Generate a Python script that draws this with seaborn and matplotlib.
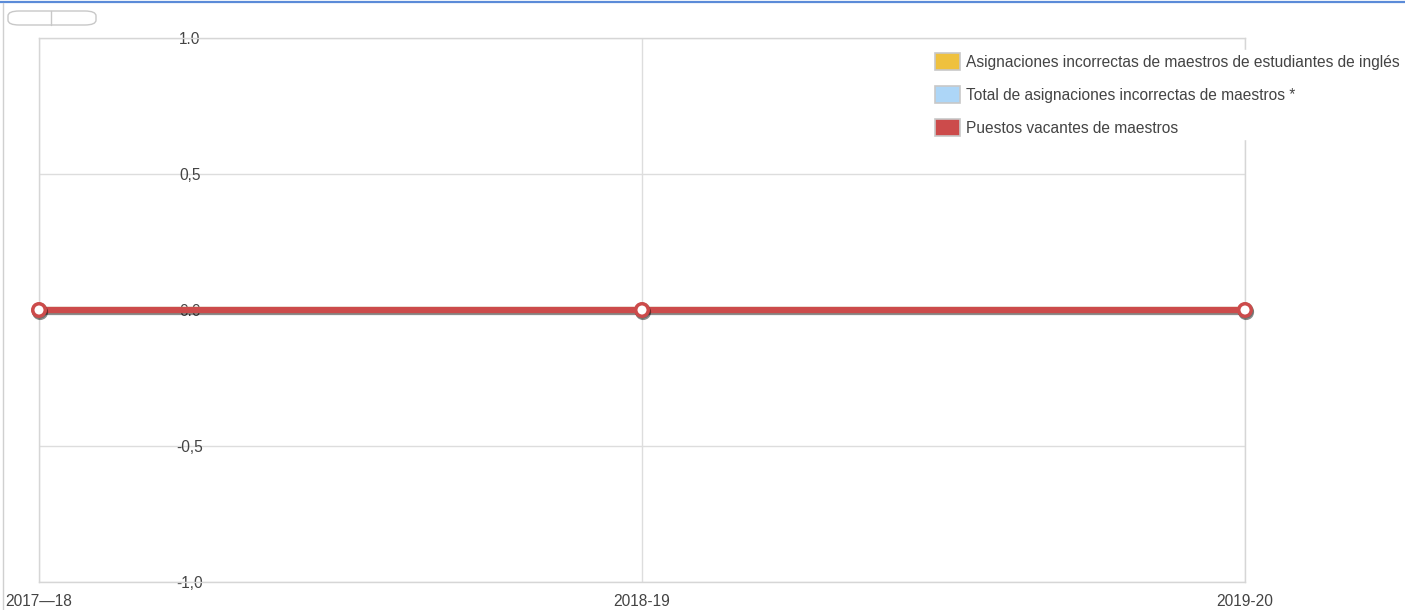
import pandas as pd
import seaborn as sns
import matplotlib.pyplot as plt
import matplotlib.patheffects as pe
from matplotlib.patches import Patch, FancyBboxPatch
from matplotlib.lines import Line2D

# Data
years = ['2017—18', '2018-19', '2019-20']
ell_misassign = [0, 0, 0]
total_misassign = [0, 0, 0]
vacancies = [0, 0, 0]
series_names = ['Asignaciones incorrectas de maestros de estudiantes de inglés',
                'Total de asignaciones incorrectas de maestros *',
                'Puestos vacantes de maestros']
series_colors = ['#EFC13E', '#ADD6F7', '#CC4B4B']
y_ticks = [1.0, 0.5, 0.0, -0.5, -1.0]
y_tick_labels = ['1.0', '0,5', '0.0', '-0,5', '-1,0']


def main():
    rows = []
    for name, vals in zip(series_names, [ell_misassign, total_misassign, vacancies]):
        for i, (yr, v) in enumerate(zip(years, vals)):
            rows.append({'pos': i, 'year': yr, 'value': v, 'series': name})
    df = pd.DataFrame(rows)

    sns.set_style('white')
    plt.rcParams['font.family'] = ['Liberation Sans', 'DejaVu Sans']
    fs = 11.2

    fig = plt.figure(figsize=(14.05, 6.10), dpi=100)
    ax = fig.add_axes([39 / 1405, 1 - 582 / 610, (1245 - 39) / 1405, (582 - 38) / 610])

    # page chrome: blue top rule, left border, little button
    fig.add_artist(Line2D([0, 1], [1 - 2 / 610, 1 - 2 / 610], color='#5B8BD8', lw=1.6,
                          transform=fig.transFigure))
    fig.add_artist(Line2D([3 / 1405, 3 / 1405], [0, 1 - 3 / 610], color='#D0D0D0', lw=1,
                          transform=fig.transFigure))
    fig.add_artist(FancyBboxPatch((8 / 1405, 1 - 25 / 610), 88 / 1405, 14 / 610,
                                  boxstyle='round,pad=0,rounding_size=0.008',
                                  transform=fig.transFigure, facecolor='white',
                                  edgecolor='#C8C8C8', lw=1, mutation_aspect=610 / 1405 * 2.3))
    fig.add_artist(Line2D([51 / 1405, 51 / 1405], [1 - 25 / 610, 1 - 11 / 610], color='#C8C8C8',
                          lw=1, transform=fig.transFigure))

    for name, color in zip(series_names, series_colors):
        sub = df[df['series'] == name]
        is_top = name == series_names[-1]
        sns.lineplot(data=sub, x='pos', y='value', ax=ax, color=color, lw=4.5,
                     marker='o', markersize=9, markerfacecolor='white',
                     markeredgecolor=color, markeredgewidth=2.5, clip_on=False, zorder=5,
                     path_effects=[pe.SimpleLineShadow(offset=(0.8, -1.5), alpha=0.45),
                                   pe.Normal()] if is_top else None,
                     legend=False)

    ax.set_xlim(0, 2)
    ax.set_ylim(-1, 1)
    ax.set_xticks(range(len(years)))
    ax.set_xticklabels(years)
    ax.set_yticks(y_ticks)
    ax.set_yticklabels(y_tick_labels)
    ax.set_xlabel('')
    ax.set_ylabel('')
    ax.grid(True, color='#DDDDDD', lw=1)
    for sp in ax.spines.values():
        sp.set_color('#D6D6D6')
        sp.set_linewidth(1)
    ax.tick_params(axis='x', length=0, pad=9, labelsize=fs, labelcolor='#444444')
    ax.tick_params(axis='y', length=0, pad=-108.7, labelsize=fs, labelcolor='#444444')
    for lbl in ax.get_yticklabels():
        lbl.set_horizontalalignment('center')
        lbl.set_zorder(10)

    handles = [Patch(facecolor=c, edgecolor='#C8C8C8', lw=1.2) for c in series_colors]
    leg = fig.legend(handles, series_names, loc='upper left',
                     bbox_to_anchor=(932 / 1405, 1 - 50 / 610), fontsize=fs,
                     frameon=True, framealpha=1, facecolor='white', edgecolor='white',
                     handlelength=1.6, handleheight=1.27, handletextpad=0.38,
                     labelspacing=1.05, borderpad=0.2, borderaxespad=0)
    for t in leg.get_texts():
        t.set_color('#444444')

    plt.savefig('out.png', dpi=100)


if __name__ == "__main__":
    main()
